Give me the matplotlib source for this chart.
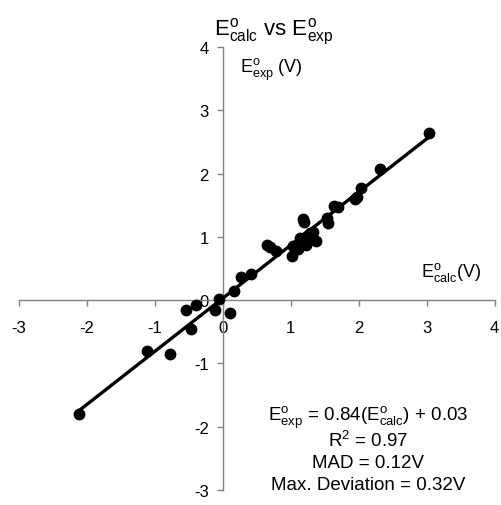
import matplotlib.pyplot as plt
import numpy as np

plt.rcParams['font.family'] = ['Liberation Sans', 'DejaVu Sans']
plt.rcParams['mathtext.fontset'] = 'custom'
plt.rcParams['mathtext.rm'] = 'Liberation Sans'
plt.rcParams['mathtext.it'] = 'Liberation Sans:italic'
plt.rcParams['axes.unicode_minus'] = False

# calculated vs experimental potentials (V)
e_calc = [-2.11, -1.12, -0.78, -0.54, -0.46, -0.39, -0.11, -0.06, 0.11, 0.17,
          0.27, 0.41, 0.65, 0.70, 0.79, 1.02, 1.04, 1.11, 1.14, 1.18, 1.20,
          1.22, 1.24, 1.28, 1.33, 1.37, 1.53, 1.55, 1.64, 1.69, 1.95, 1.98,
          2.04, 2.31, 3.04]
e_exp = [-1.80, -0.81, -0.85, -0.15, -0.45, -0.08, -0.15, 0.02, -0.20, 0.15,
         0.37, 0.42, 0.87, 0.84, 0.77, 0.70, 0.86, 0.81, 0.98, 1.28, 1.23,
         0.87, 1.02, 1.06, 1.07, 0.93, 1.30, 1.22, 1.49, 1.47, 1.60, 1.63,
         1.77, 2.07, 2.64]
slope, intercept = 0.84, 0.03

fig = plt.figure(figsize=(5.02, 5.06), dpi=100)
ax = fig.add_axes([0.0373, 0.0296, 0.9482, 0.8755])

xs = np.array([min(e_calc), max(e_calc)])
ax.plot(xs, slope * xs + intercept, color='black', lw=2.4, solid_capstyle='butt', zorder=2)
ax.plot(e_calc, e_exp, 'o', color='black', ms=7.5, zorder=3)

ax.set_xlim(-3, 4)
ax.set_ylim(-3, 4)
ax.set_xticks(range(-3, 5))
ax.set_yticks(range(-3, 5))

for s in ['top', 'right']:
  ax.spines[s].set_visible(False)
ax.spines['left'].set_position(('data', 0))
ax.spines['bottom'].set_position(('data', 0))
for s in ['left', 'bottom']:
  ax.spines[s].set_color('#808080')
  ax.spines[s].set_linewidth(1.0)
ax.tick_params(direction='out', length=4, width=1.0, color='#808080',
               labelsize=12, labelcolor='black')
ax.tick_params(axis='x', pad=10)
ax.tick_params(axis='y', pad=6)

ax.text(0.25, 3.65, r'E$^{\rm o}_{\rm exp}$ (V)', fontsize=13, va='center', ha='left')
ax.text(3.8, 0.45, r'E$^{\rm o}_{\rm calc}$(V)', fontsize=13, va='center', ha='right')

fig.text(274/502, 1 - 32/506, r'E$^{\rm o}_{\rm calc}$ vs E$^{\rm o}_{\rm exp}$',
         fontsize=16, ha='center', va='center')

notes = [r'E$^{\rm o}_{\rm exp}$ = 0.84(E$^{\rm o}_{\rm calc}$) + 0.03',
         r'R$^2$ = 0.97', 'MAD = 0.12V', 'Max. Deviation = 0.32V']
for i, t in enumerate(notes):
  fig.text(368/502, 1 - (418 + i*22.5)/506, t, fontsize=13.5, ha='center', va='center')

plt.savefig('out.png', dpi=100)
